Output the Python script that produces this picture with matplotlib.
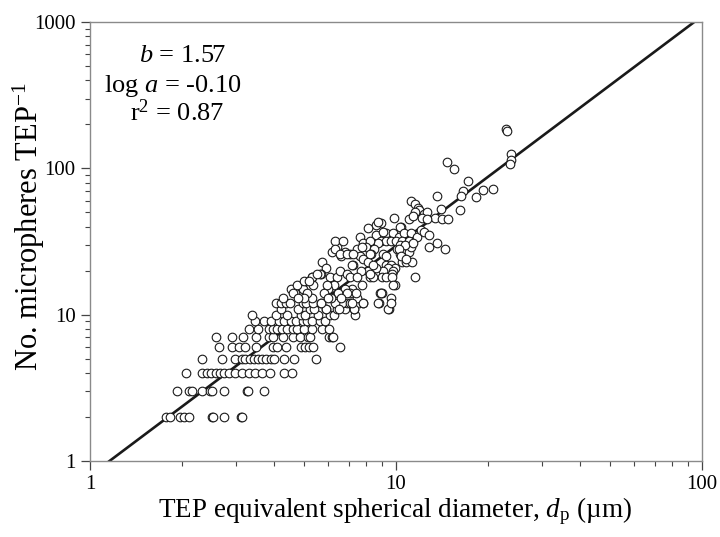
# TEP size vs. number of microspheres, log-log
import matplotlib
matplotlib.use('Agg')
import matplotlib.pyplot as plt
import numpy as np
from matplotlib.ticker import FuncFormatter, NullFormatter, LogLocator

plt.rcParams['font.family'] = ['Liberation Serif', 'DejaVu Serif']
plt.rcParams['mathtext.fontset'] = 'custom'
plt.rcParams['mathtext.rm'] = 'Liberation Serif'
plt.rcParams['mathtext.it'] = 'Liberation Serif:italic'

# fit parameters (log N = log a + b log dp)
b_fit = 1.57
loga_fit = -0.10
r2_fit = 0.87

# low counts sit on integer rows: diameters for each count
row_2 = [1.77, 1.83, 1.97, 2.03, 2.10, 2.50, 2.53, 2.74, 3.11, 3.13]
row_3 = [1.92, 2.11, 2.15, 2.32, 2.47, 2.50, 2.75, 3.25, 3.29, 3.69]
row_4 = [2.06, 2.33, 2.41, 2.49, 2.58, 2.65, 2.74, 2.84, 2.98, 3.14, 3.31, 3.46, 3.66, 3.87, 4.30, 4.57]
row_5 = [2.32, 2.71, 2.98, 3.14, 3.20, 3.33, 3.43, 3.54, 3.64, 3.76, 3.90, 4.00, 4.30, 4.64, 5.46]
row_6 = [2.64, 2.91, 3.06, 3.21, 3.50, 3.95, 4.08, 4.38, 4.88, 5.06, 5.21, 5.36, 6.55]
row_7 = [2.58, 2.91, 3.17, 3.49, 3.85, 3.95, 4.28, 4.60, 4.86, 5.17, 5.24, 6.06, 6.16, 6.23]
row_8 = [3.32, 3.55, 3.84, 3.97, 4.08, 4.25, 4.40, 4.62, 4.74, 5.00, 5.30, 5.73, 6.05]
row_9 = [3.46, 3.69, 3.90, 4.14, 4.30, 4.55, 4.70, 4.97, 5.10, 5.30, 5.66, 5.85]
row_10 = [3.39, 4.04, 4.42, 4.88, 5.06, 5.57, 6.08, 6.27, 7.35]
row_11 = [4.20, 4.80, 5.24, 5.40, 5.90, 6.40, 6.80, 7.30, 9.50]
row_12 = [4.05, 4.21, 4.38, 4.51, 4.95, 5.08, 5.37, 5.70, 6.67, 6.94, 7.59, 7.82, 8.80]

# higher counts (dp, N)
upper = [
    (22.8, 185), (23.1, 181), (23.8, 126), (23.7, 114), (23.5, 107),
    (14.7, 110), (15.5, 99), (17.2, 82), (20.8, 72), (19.3, 71), (16.5, 70), (16.3, 65), (18.3, 64), (13.6, 65),
    (11.2, 60), (11.5, 57), (11.8, 54), (11.9, 52), (16.2, 52), (14.0, 53), (12.3, 49), (12.6, 50), (11.5, 50),
    (9.85, 46), (11.0, 45), (13.4, 46), (14.1, 45), (14.8, 45), (12.2, 46), (12.6, 45), (11.4, 47),
    (10.35, 40), (8.95, 42), (8.6, 41), (8.75, 43), (8.1, 39), (10.3, 40),
    (9.3, 36), (9.8, 36), (10.2, 34), (10.6, 36), (11.2, 36), (11.7, 34), (12.1, 38), (12.3, 37), (12.8, 35),
    (8.6, 35), (9.1, 37),
    (8.9, 32), (9.3, 32), (9.6, 32), (10.0, 32), (10.5, 32), (11.0, 32), (8.75, 31), (7.63, 34), (7.8, 31), (8.2, 32),
    (10.1, 28), (10.3, 26), (10.5, 23), (10.8, 23), (11.3, 23), (10.5, 27), (11.0, 27),
    (12.8, 29), (13.6, 31), (14.5, 28), (11.2, 29), (10.3, 30), (10.7, 30),
    (9.3, 22), (9.6, 22), (9.9, 21), (9.4, 21), (9.8, 20),
    (11.5, 18), (9.9, 16), (9.1, 20), (9.7, 19), (9.0, 18), (9.3, 18), (9.7, 18), (8.2, 18), (8.4, 18),
    (9.0, 14), (8.75, 12), (9.6, 13), (9.45, 11), (8.85, 14),
    (8.0, 29), (8.5, 28), (8.3, 26), (9.1, 26), (9.3, 25), (10.2, 28), (11.4, 31), (10.4, 25), (10.8, 24),
    (8.6, 21), (8.1, 20), (7.7, 20), (7.25, 22),
    (6.6, 25), (6.2, 27), (6.4, 29), (6.8, 27), (7.1, 26), (7.45, 28), (7.6, 25), (7.8, 24), (8.1, 23), (8.4, 22),
    (6.3, 32), (6.7, 32), (7.74, 29),
    (6.32, 28), (6.56, 26), (6.9, 26), (7.25, 26), (7.17, 22), (8.2, 26), (8.2, 19),
    (5.75, 23), (5.9, 21), (5.7, 19),
    (6.1, 18), (6.4, 18), (6.56, 20), (6.9, 19), (7.07, 18), (7.45, 18), (7.74, 16), (7.17, 15), (6.81, 15),
    (7.07, 14), (6.48, 14), (6.65, 12), (6.33, 12), (7.07, 12), (7.45, 13),
    (6.25, 16), (6.0, 15), (6.15, 13), (5.8, 14), (5.3, 13), (5.36, 16), (5.33, 18), (5.64, 19),
    (4.53, 15), (4.92, 16), (4.98, 15), (4.67, 14), (5.1, 14), (4.26, 13), (4.75, 16), (4.6, 14),
    (5.0, 17), (5.3, 18), (5.0, 13), (4.8, 13),
    (5.95, 16), (5.5, 19), (5.2, 17),
    (6.5, 11), (5.9, 11), (5.67, 12), (7.3, 11), (7.2, 12), (7.8, 12), (9.6, 12), (8.9, 14), (9.8, 16),
    (7.4, 14), (6.9, 14), (6.0, 13), (6.6, 13),
]

rows = {2: row_2, 3: row_3, 4: row_4, 5: row_5, 6: row_6, 7: row_7,
        8: row_8, 9: row_9, 10: row_10, 11: row_11, 12: row_12}

dp = []
count = []
for n, xs in rows.items():
    dp += xs
    count += [n] * len(xs)
dp += [p[0] for p in upper]
count += [p[1] for p in upper]

fig = plt.figure(figsize=(7.2, 5.37), dpi=100)
ax = fig.add_axes([0.125, 0.1415, 0.85, 0.8175])

# regression line
xl = np.logspace(0, 2, 200)
ax.plot(xl, 10 ** loga_fit * xl ** b_fit, color='#1a1a1a', lw=1.9, zorder=2)

ax.plot(dp, count, 'o', ms=6.2, mfc='white', mec='#1a1a1a', mew=0.8, zorder=3)

ax.set_xscale('log')
ax.set_yscale('log')
ax.set_xlim(1, 100)
ax.set_ylim(1, 1000)

fmt = FuncFormatter(lambda v, _: f'{v:g}')
ax.xaxis.set_major_formatter(fmt)
ax.yaxis.set_major_formatter(fmt)
ax.xaxis.set_minor_formatter(NullFormatter())
ax.yaxis.set_minor_formatter(NullFormatter())
ax.xaxis.set_minor_locator(LogLocator(base=10, subs=np.arange(2, 10)))
ax.yaxis.set_minor_locator(LogLocator(base=10, subs=np.arange(2, 10)))

for s in ax.spines.values():
    s.set_color('#8a8a8a')
    s.set_linewidth(1.0)
ax.tick_params(which='major', direction='out', length=6.3, width=0.9, color='#444444',
               labelsize=15, pad=4)
ax.tick_params(which='minor', direction='out', length=3.5, width=0.8, color='#444444')
ax.tick_params(top=False, right=False, which='both')

ax.set_xlabel('TEP equivalent spherical diameter, $d_{\\mathrm{p}}$ (\u00b5m)', fontsize=19.5)
ax.xaxis.set_label_coords(0.498, -0.078)
ax.set_ylabel('No. micropheres TEP$^{-1}$', fontsize=22)
ax.yaxis.set_label_coords(-0.07, 0.535)

ax.text(0.152, 0.9226, f'$b$ = {b_fit:.2f}', transform=ax.transAxes, ha='center', va='center', fontsize=19)
ax.text(0.1356, 0.854, f'log $a$ = {loga_fit:.2f}', transform=ax.transAxes, ha='center', va='center', fontsize=19)
ax.text(0.142, 0.793, f'r$^2$ = {r2_fit:.2f}', transform=ax.transAxes, ha='center', va='center', fontsize=19)

plt.savefig('out.png', dpi=100)
plt.close()
